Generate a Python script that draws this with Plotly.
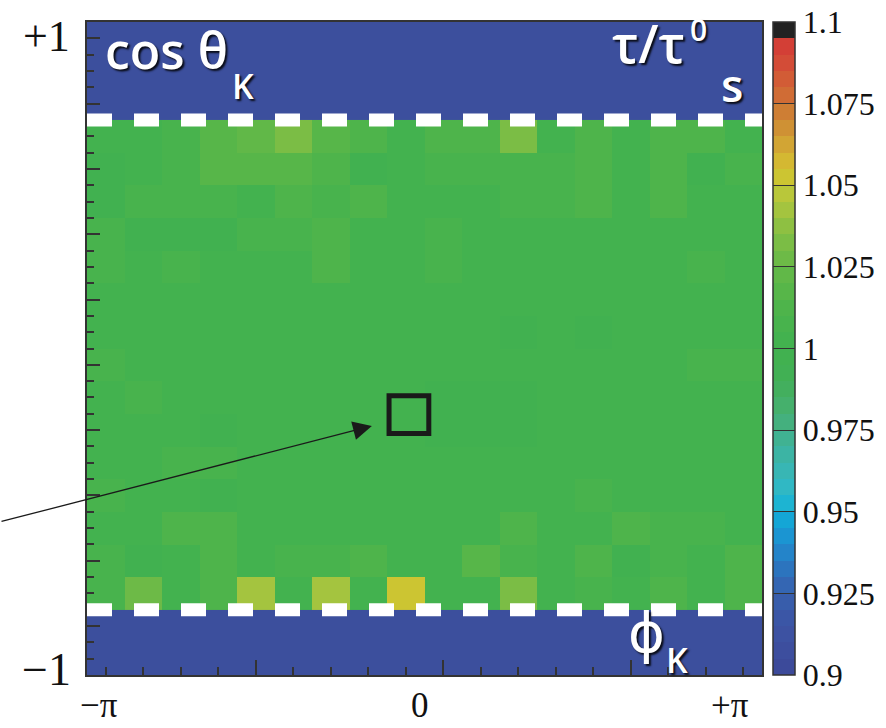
import numpy as np
import plotly.graph_objects as go

# Binning: 18 bins in phi_K over [-pi, pi], 15 bins in cos(theta_K) over [-0.8, 0.7]
PHI_EDGES = np.linspace(-np.pi, np.pi, 19)
COS_EDGES = np.round(np.linspace(-0.8, 0.7, 16), 2)

# tau / tau0_s per bin, one list per cos(theta_K) row (phi_K from -pi to +pi)
ratio_cos_p065 = [1.002, 1.002, 1.008, 1.017, 1.024, 1.032, 1.019, 1.012, 1.002, 1.011, 1.012, 1.031, 1.001, 1.011, 1.002, 1.013, 1.011, 1.002]
ratio_cos_p055 = [0.996, 1.005, 1.009, 1.018, 1.018, 1.018, 1.012, 0.996, 1.000, 1.007, 1.007, 1.006, 1.006, 1.012, 1.004, 1.010, 0.998, 1.007]
ratio_cos_p045 = [0.996, 1.006, 1.007, 1.007, 1.005, 1.011, 1.008, 1.010, 1.000, 1.002, 1.002, 1.008, 1.008, 1.012, 1.002, 1.010, 1.001, 1.001]
ratio_cos_p035 = [1.007, 0.999, 0.999, 0.996, 1.009, 1.009, 1.014, 1.000, 1.001, 1.007, 1.001, 1.001, 1.001, 1.001, 1.001, 1.001, 1.001, 1.001]
ratio_cos_p025 = [1.007, 1.000, 1.007, 1.000, 1.000, 1.003, 1.014, 1.000, 1.000, 1.006, 1.000, 1.000, 1.000, 1.000, 1.000, 1.000, 1.006, 1.000]
ratio_cos_p015 = [1.001, 1.001, 1.001, 1.001, 1.001, 1.001, 1.001, 1.004, 1.001, 1.001, 1.001, 1.001, 1.001, 1.001, 1.003, 1.001, 1.001, 1.001]
ratio_cos_p005 = [1.001, 1.001, 1.001, 1.001, 1.001, 1.001, 1.001, 1.001, 1.001, 1.001, 1.001, 0.998, 1.001, 0.998, 1.001, 1.001, 1.001, 1.001]
ratio_cos_m005 = [1.006, 1.001, 1.001, 1.001, 1.001, 1.005, 1.001, 1.001, 1.001, 1.001, 1.001, 1.001, 1.001, 1.001, 1.001, 1.002, 1.006, 1.006]
ratio_cos_m015 = [1.001, 1.007, 1.001, 1.001, 1.001, 1.001, 1.001, 1.001, 1.001, 0.998, 0.998, 0.998, 1.001, 1.001, 1.001, 1.001, 1.001, 1.001]
ratio_cos_m025 = [1.001, 1.001, 1.001, 0.997, 1.001, 1.004, 1.001, 1.001, 1.001, 0.998, 0.998, 0.998, 1.001, 1.001, 1.001, 1.001, 1.001, 1.001]
ratio_cos_m035 = [1.001, 1.001, 1.007, 1.006, 1.001, 1.001, 1.001, 1.001, 1.001, 1.002, 1.001, 1.001, 1.001, 1.004, 1.002, 1.002, 1.002, 1.002]
ratio_cos_m045 = [1.006, 1.001, 1.001, 0.996, 1.001, 1.005, 1.001, 1.001, 1.001, 1.001, 1.001, 1.001, 1.001, 1.006, 1.003, 1.003, 1.003, 1.003]
ratio_cos_m055 = [1.001, 1.001, 1.011, 1.011, 1.005, 1.002, 1.001, 1.001, 1.001, 1.001, 1.001, 1.010, 1.001, 1.001, 1.012, 1.006, 1.006, 1.001]
ratio_cos_m065 = [1.009, 0.998, 1.002, 1.013, 1.002, 1.006, 1.006, 1.013, 1.004, 1.003, 1.019, 1.006, 1.002, 1.010, 0.997, 1.006, 1.003, 1.011]
ratio_cos_m075 = [1.007, 1.027, 1.003, 1.013, 1.043, 1.002, 1.043, 1.001, 1.052, 1.003, 1.001, 1.031, 1.003, 1.007, 1.003, 1.012, 1.003, 1.014]

# bottom row first so the grid follows the increasing cos(theta_K) edges
ratio_rows = [
    ratio_cos_m075, ratio_cos_m065, ratio_cos_m055, ratio_cos_m045, ratio_cos_m035,
    ratio_cos_m025, ratio_cos_m015, ratio_cos_m005, ratio_cos_p005, ratio_cos_p015,
    ratio_cos_p025, ratio_cos_p035, ratio_cos_p045, ratio_cos_p055, ratio_cos_p065,
]

# acceptance cut lines and highlighted bin
CUT_LOW, CUT_HIGH = -0.8, 0.7
BOX_PHI = (-0.33, 0.04)
BOX_COS = (-0.26, -0.145)
ARROW_TIP = (-0.49, -0.237)

Z_MIN, Z_MAX = 0.9, 1.1
CBAR_TICKS = [0.9, 0.925, 0.95, 0.975, 1.0, 1.025, 1.05, 1.075, 1.1]
CBAR_TEXT = ["0.9", "0.925", "0.95", "0.975", "1", "1.025", "1.05", "1.075", "1.1"]

# 40-level palette (0.005 per level)
PALETTE = [
    "#3C4A9A", "#3D4E9E", "#3D52A2", "#3B56A6", "#385DAB",
    "#3466B3", "#2C74BE", "#2484C9", "#1B95D2", "#14A6D6",
    "#1DB4D2", "#30B8C4", "#38B6B4", "#3CB4A4", "#40B292",
    "#44B07E", "#45B06C", "#43AF5E", "#41B054", "#41B150",
    "#43B24F", "#48B34D", "#4EB44B", "#57B649", "#61B848",
    "#6DBA47", "#7BBD45", "#8EC042", "#A4C43F", "#B9C73A",
    "#CCC532", "#D4B832", "#D2A534", "#CF9134", "#CE7E34",
    "#D06C35", "#D25C36", "#D34C37", "#D33F36", "#222222",
]
n = len(PALETTE)
colorscale = []
for i, c in enumerate(PALETTE):
    colorscale.append([i / n, c])
    colorscale.append([(i + 1) / n, c])

BAND_BLUE = "#3C4F9D"
FRAME = "#333333"

# plot area in pixels
W, H = 886, 728
L, R, T, B = 87, 762, 22, 675


def paper(px, py):
    return (px - L) / (R - L), (B - py) / (B - T)


fig = go.Figure()
fig.add_trace(go.Heatmap(
    x=PHI_EDGES, y=COS_EDGES, z=np.array(ratio_rows),
    zmin=Z_MIN, zmax=Z_MAX, colorscale=colorscale,
    colorbar=dict(
        x=paper(773, 0)[0], xanchor="left", xpad=0, ypad=0,
        y=0.5, yanchor="middle", len=1, lenmode="fraction",
        thickness=22, outlinecolor=FRAME, outlinewidth=1.5,
        tickvals=CBAR_TICKS, ticktext=CBAR_TEXT,
        ticks="inside", ticklen=22, tickcolor=FRAME, tickwidth=1,
        tickfont=dict(family="Liberation Serif", size=32, color="#111111"),
    ),
    hoverinfo="skip",
))

# dashed acceptance boundaries
for yc in (CUT_HIGH, CUT_LOW):
    fig.add_shape(type="line", x0=-np.pi, x1=np.pi, y0=yc, y1=yc,
                  line=dict(color="white", width=13, dash="25px,22px"), layer="above")

# highlighted bin
fig.add_shape(type="rect", x0=BOX_PHI[0], x1=BOX_PHI[1], y0=BOX_COS[0], y1=BOX_COS[1],
              line=dict(color="#1a1a1a", width=5), fillcolor="rgba(0,0,0,0)", layer="above")

fig.add_annotation(x=ARROW_TIP[0], y=ARROW_TIP[1], xref="x", yref="y", text="",
                   showarrow=True, arrowhead=2, arrowsize=2.9, arrowwidth=1.3,
                   arrowcolor="#1a1a1a", ax=-372, ay=96, standoff=0)

# white labels with drop shadow
shadow = "2px 2px 2px rgba(0,0,0,0.85)"
lab_font = "Open Sans"


def label(text, px, py, size, family=lab_font, color="white", shadow_css=shadow, weight=600):
    xp, yp = paper(px, py)
    fig.add_annotation(x=xp, y=yp, xref="paper", yref="paper", text=text, showarrow=False,
                       xanchor="center", yanchor="middle",
                       font=dict(family=family, size=size, color=color, shadow=shadow_css,
                                 weight=weight))


label("cos θ", 166, 50, 50)
label("K", 243, 86, 34)
label("τ/τ", 648, 42, 52)
label("0", 698, 30, 30)
label("s", 732, 84, 46)
label("ϕ", 646, 632, 56, family="DejaVu Sans", weight=400)
label("K", 677, 660, 34)

# axis end labels
serif = "Liberation Serif"
ink = "#111111"
label("+1", 46, 36, 44, family=serif, color=ink, shadow_css="none", weight=400)
label("−1", 46, 669, 46, family=serif, color=ink, shadow_css="none", weight=400)
label("−π", 99, 705, 35, family=serif, color=ink, shadow_css="none", weight=400)
label("0", 420, 705, 35, family=serif, color=ink, shadow_css="none", weight=400)
label("+π", 730, 705, 35, family=serif, color=ink, shadow_css="none", weight=400)

fig.update_xaxes(
    range=[-np.pi, np.pi], showgrid=False, zeroline=False, showticklabels=False,
    showline=True, mirror=True, linecolor=FRAME, linewidth=2,
    ticks="inside", tick0=-np.pi / 2, dtick=5 * np.pi / 9, ticklen=15, tickwidth=1.5, tickcolor=FRAME,
    minor=dict(ticks="inside", tick0=-np.pi / 2, dtick=np.pi / 9, ticklen=8, tickwidth=1.5, tickcolor=FRAME),
)
fig.update_yaxes(
    range=[-1, 1], showgrid=False, zeroline=False, showticklabels=False,
    showline=True, mirror=True, linecolor=FRAME, linewidth=2,
    ticks="inside", tick0=-0.85, dtick=0.2, ticklen=13, tickwidth=1.5, tickcolor=FRAME,
    minor=dict(ticks="inside", tick0=-1, dtick=0.05, ticklen=7, tickwidth=1.5, tickcolor=FRAME),
)

fig.update_layout(
    width=W, height=H,
    margin=dict(l=L, r=W - R, t=T, b=H - B, autoexpand=False),
    paper_bgcolor="white", plot_bgcolor=BAND_BLUE,
    showlegend=False,
)

fig.write_html("out.html")
